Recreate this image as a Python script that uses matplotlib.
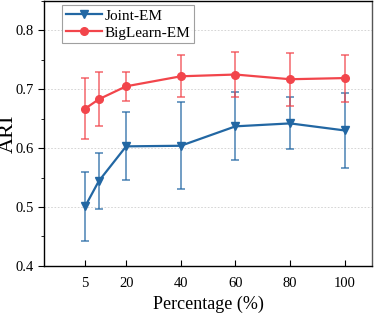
import matplotlib
matplotlib.use("Agg")
import matplotlib.pyplot as plt
from matplotlib.ticker import MultipleLocator
from matplotlib.lines import Line2D

percent = [5, 10, 20, 40, 60, 80, 100]
tick_vals = [5, 20, 40, 60, 80, 100]

joint_em = [0.501, 0.544, 0.603, 0.604, 0.637, 0.642, 0.630]
joint_err = [0.059, 0.047, 0.058, 0.074, 0.058, 0.044, 0.063]

biglearn_em = [0.667, 0.683, 0.705, 0.722, 0.725, 0.717, 0.719]
biglearn_err = [0.052, 0.046, 0.025, 0.036, 0.039, 0.045, 0.040]

plt.rcParams['font.family'] = ['Liberation Serif', 'DejaVu Serif']

fig = plt.figure(figsize=(3.74, 3.15), dpi=100)
ax = fig.add_axes([0.118, 0.156, 0.877, 0.841])

blue = '#2267a3'
red = '#f2454b'

ax.grid(axis='y', color='#cfcfcf', linestyle=(0, (2, 2)), linewidth=0.6)
ax.set_axisbelow(True)

eb1 = ax.errorbar(percent, joint_em, yerr=joint_err, color=blue, marker='v',
                  markersize=5.5, linewidth=1.6, capsize=3, elinewidth=1.2,
                  capthick=1.2, ecolor=blue)
for c in list(eb1[2]) + list(eb1[1]):
    c.set_alpha(0.75)
eb2 = ax.errorbar(percent, biglearn_em, yerr=biglearn_err, color=red, marker='o',
                  markersize=5.5, linewidth=1.6, capsize=3, elinewidth=1.2,
                  capthick=1.2, ecolor=red)
for c in list(eb2[2]) + list(eb2[1]):
    c.set_alpha(0.75)

ax.set_xlim(-10, 110)
ax.set_ylim(0.4, 0.85)
ax.set_xticks(tick_vals)
ax.set_xticklabels([str(v) for v in tick_vals])
ax.yaxis.set_minor_locator(MultipleLocator(0.05))
ax.set_yticks([0.4, 0.5, 0.6, 0.7, 0.8])
ax.set_yticklabels(['0.4', '0.5', '0.6', '0.7', '0.8'])

ax.tick_params(axis='x', direction='in', length=4, width=0.8, labelsize=10.5, pad=8)
ax.tick_params(axis='y', which='major', direction='out', length=4, width=0.8, labelsize=10.5)
ax.tick_params(axis='y', which='minor', direction='out', length=2, width=0.6)

for s in ax.spines.values():
    s.set_linewidth(1.0)
ax.spines['right'].set_color('#555555')

ax.set_xlabel('Percentage (%)', fontsize=13, labelpad=4)
ax.set_ylabel('ARI', fontsize=16)
ax.yaxis.set_label_coords(-0.08, 0.5)

handles = [Line2D([], [], color=blue, marker='v', markersize=5.5, linewidth=1.6),
           Line2D([], [], color=red, marker='o', markersize=5.5, linewidth=1.6)]
leg = ax.legend(handles, ['Joint-EM', 'BigLearn-EM'], loc='upper left',
                bbox_to_anchor=(0.045, 0.995), fontsize=11,
                frameon=True, fancybox=False, edgecolor='#888888',
                handlelength=2.4, borderpad=0.25, labelspacing=0.2,
                handletextpad=0.15, borderaxespad=0.2)
leg.get_frame().set_linewidth(0.8)

fig.savefig('out.png', dpi=100)
